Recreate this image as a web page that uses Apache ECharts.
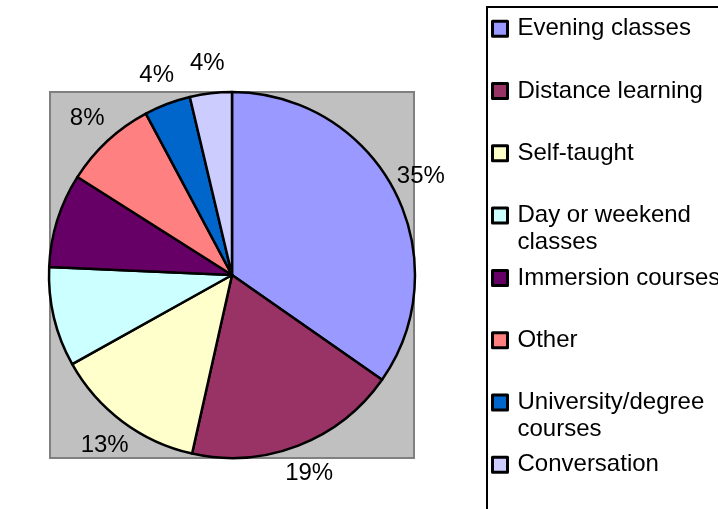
<html>
<head>
<meta charset="utf-8">
<script src="https://cdn.jsdelivr.net/npm/echarts@6/dist/echarts.min.js"></script>
<style>
    html, body { margin: 0; padding: 0; background: #fff; }
    #main { width: 718px; height: 509px; }
</style>
</head>
<body>
<div id="main"></div>
<script>
    var categories = [
        'Evening classes', 'Distance learning', 'Self-taught', 'Day or weekend classes',
        'Immersion courses', 'Other', 'University/degree courses', 'Conversation'
    ];
    var legendText = [
        'Evening classes', 'Distance learning', 'Self-taught', 'Day or weekend\nclasses',
        'Immersion courses', 'Other', 'University/degree\ncourses', 'Conversation'
    ];
    // shares in percent, labels show them rounded
    var shares = [34.7, 18.8, 13.4, 8.8, 8.3, 8.2, 4.1, 3.7];
    var colors = ['#9999ff', '#993366', '#ffffcc', '#ccffff', '#660066', '#ff8080', '#0066cc', '#ccccff'];

    var FONT = '"Liberation Sans", Arial, sans-serif';
    var CX = 232, CY = 275, R = 183, LABEL_R = 213;

    var total = shares.reduce(function (a, b) { return a + b; }, 0);

    function midAngle(idx) {
        var before = 0;
        for (var i = 0; i < idx; i++) before += shares[i];
        return (before + shares[idx] / 2) / total * Math.PI * 2;
    }

    var legends = categories.map(function (name, i) {
        var text = legendText[i];
        var lines = text.indexOf('\n') >= 0 ? 3 : 1;
        var center = 28.7 + i * 62.3;
        return {
            data: [name],
            orient: 'vertical',
            left: 491,
            top: center - 13.5 * lines,
            padding: 0,
            itemGap: 0,
            itemWidth: 15,
            itemHeight: 15,
            icon: 'rect',
            selectedMode: false,
            itemStyle: { borderColor: '#000', borderWidth: 3 },
            formatter: function () {
                return lines === 3 ? '\n' + text : text;
            },
            textStyle: {
                fontFamily: FONT,
                fontSize: 24,
                color: '#000',
                lineHeight: 27,
                padding: [0, 0, 0, 5]
            }
        };
    });

    var chart = echarts.init(document.getElementById('main'), null, { renderer: 'canvas' });

    chart.setOption({
        animation: false,
        backgroundColor: '#fff',
        graphic: [
            {
                type: 'rect',
                shape: { x: 50, y: 92, width: 364, height: 366 },
                style: { fill: '#c0c0c0', stroke: '#808080', lineWidth: 2 }
            },
            {
                type: 'rect',
                shape: { x: 487, y: 7, width: 260, height: 540 },
                style: { fill: '#fff', stroke: '#000', lineWidth: 2 }
            }
        ],
        legend: legends,
        series: [
            {
                type: 'pie',
                center: [CX, CY],
                radius: R,
                startAngle: 90,
                clockwise: true,
                silent: true,
                color: colors,
                itemStyle: { borderColor: '#000', borderWidth: 2.5 },
                label: {
                    show: true,
                    formatter: function (p) { return Math.round(p.value) + '%'; },
                    fontFamily: FONT,
                    fontSize: 24,
                    color: '#000'
                },
                labelLine: { show: false },
                labelLayout: function (params) {
                    var a = midAngle(params.dataIndex);
                    return {
                        x: CX + LABEL_R * Math.sin(a),
                        y: CY - LABEL_R * Math.cos(a),
                        align: 'center',
                        verticalAlign: 'middle'
                    };
                },
                data: categories.map(function (name, i) {
                    return { name: name, value: shares[i] };
                })
            }
        ]
    });
</script>
</body>
</html>
